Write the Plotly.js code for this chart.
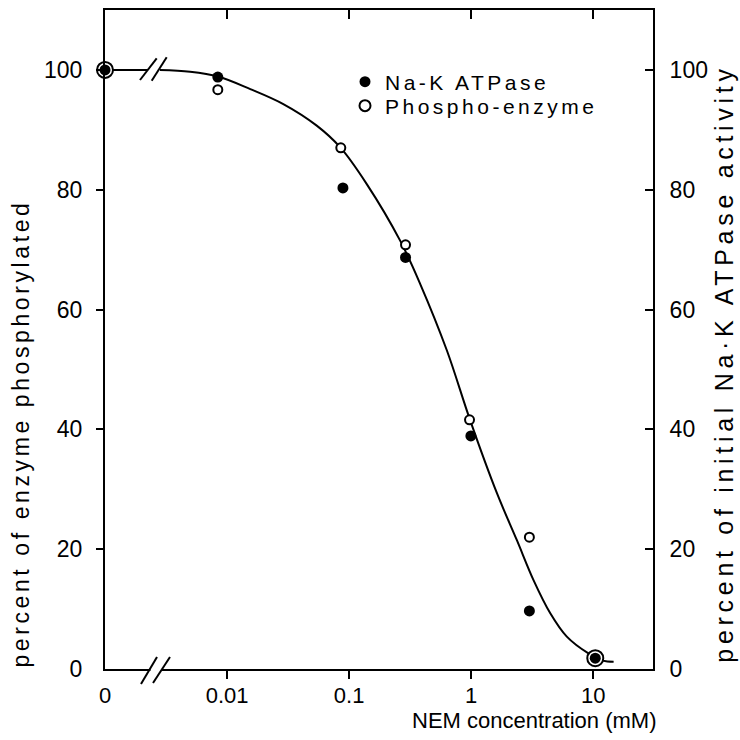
<!DOCTYPE html>
<html>
<head>
<meta charset="utf-8">
<script src="https://cdn.plot.ly/plotly-3.0.1.min.js"></script>
<style>
  html, body { margin: 0; padding: 0; background: #fff; }
  #chart { width: 740px; height: 740px; }
  text.legendtext { letter-spacing: 3.5px; }
  #chart g.annotation[data-index="1"] text { letter-spacing: 3.6px; }
  #chart g.annotation[data-index="2"] text { letter-spacing: 4.7px; }
</style>
</head>
<body>
<div id="chart"></div>
<script>
// ---- data ----
// x = 0 is drawn at 0.001 mM (one decade left of 0.01, behind the axis break)
const tickVals = [0.001, 0.01, 0.1, 1, 10];
const tickText = ['0', '0.01', '0.1', '1', '10'];
const yTickVals = [0, 20, 40, 60, 80, 100];

const atpaseX = [0.001, 0.0084, 0.089, 0.29, 0.995, 3.0, 10.4];
const atpaseY = [100, 98.8, 80.3, 68.7, 38.9, 9.7, 1.8];

const phosphoX = [0.001, 0.0084, 0.0855, 0.29, 0.97, 3.0, 10.4];
const phosphoY = [100, 96.7, 87.0, 70.8, 41.6, 22.0, 1.8];

// fitted curve (before the axis break and after it)
const curveStartX = [0.001, 0.00225];
const curveStartY = [100, 100];
const curveX = [0.00282, 0.00498, 0.00843, 0.0155, 0.0289, 0.0543, 0.0844, 0.14, 0.262, 0.382, 0.632, 0.982, 1.63, 2.37, 3.25, 4.45, 6.08, 9.14, 12.0, 14.7];
const curveY = [100, 99.7, 98.9, 96.8, 94.3, 90.7, 87.1, 80.9, 71.5, 64.3, 53.2, 41.5, 29.3, 21.5, 14.8, 9.3, 5.4, 2.6, 1.4, 1.2];

const xTitle = 'NEM concentration (mM)';
const yLeftTitle = 'percent of enzyme phosphorylated';
const yRightTitle = 'percent of initial Na\u00b7K ATPase activity';
const legendNames = ['Na-K ATPase', 'Phospho-enzyme'];

// ---- chart ----
const FONT = 'Liberation Sans, Arial, Helvetica, sans-serif';
const xRange = [-3, 1.49];
const yRange = [0, 110];
const innerTicksX = tickVals.filter(v => v > tickVals[0]);
const innerTicksY = yTickVals.filter(v => v > yTickVals[0]);

// points where both series coincide get a ring around the dot
const phosphoSize = phosphoX.map((x, i) =>
  atpaseX.some((ax, j) => ax === x && atpaseY[j] === phosphoY[i]) ? 16 : 9);

const traces = [
  { x: curveStartX, y: curveStartY, mode: 'lines', line: { color: '#000', width: 2 },
    showlegend: false, hoverinfo: 'skip', cliponaxis: false },
  { x: curveX, y: curveY, mode: 'lines', line: { color: '#000', width: 2, shape: 'spline', smoothing: 1 },
    showlegend: false, hoverinfo: 'skip', cliponaxis: false },
  { x: phosphoX, y: phosphoY, name: legendNames[1], mode: 'markers', legend: 'legend2',
    marker: { symbol: 'circle', color: '#fff', size: phosphoSize, opacity: 1, line: { color: '#000', width: 2 } },
    cliponaxis: false },
  { x: atpaseX, y: atpaseY, name: legendNames[0], mode: 'markers', legend: 'legend',
    marker: { symbol: 'circle', color: '#000', size: 11, opacity: 1 }, cliponaxis: false },
  // empty traces that create the overlay axes used for the tick marks
  { x: [], y: [], xaxis: 'x2', yaxis: 'y2', showlegend: false, hoverinfo: 'skip' },
  { x: [], y: [], xaxis: 'x3', yaxis: 'y3', showlegend: false, hoverinfo: 'skip' }
];

const baseAx = { showgrid: false, zeroline: false, fixedrange: true };
const font = (s) => ({ family: FONT, size: s, color: '#000' });

// helpers for paper coordinates of the decorations
const L = 105, R = 653, T = 10, B = 669;
const px = (v) => (v - L) / (R - L);
const py = (v) => (B - v) / (B - T);
const slash = (x0, y0, x1, y1) => ({ type: 'line', xref: 'paper', yref: 'paper',
  x0: px(x0), y0: py(y0), x1: px(x1), y1: py(y1), line: { color: '#000', width: 2 } });

const layout = {
  width: 740, height: 740,
  margin: { l: L, r: 740 - R, t: T, b: 740 - B, pad: 0 },
  paper_bgcolor: '#fff', plot_bgcolor: '#fff',
  font: font(22),
  xaxis: Object.assign({}, baseAx, {
    type: 'log', range: xRange, tickmode: 'array', tickvals: tickVals, ticktext: tickText,
    ticks: 'outside', ticklen: 6, tickcolor: 'rgba(0,0,0,0)',
    showline: true, linecolor: '#000', linewidth: 2, tickfont: font(22), anchor: 'y'
  }),
  xaxis2: Object.assign({}, baseAx, {
    type: 'log', range: xRange, overlaying: 'x', anchor: 'y', side: 'bottom',
    tickmode: 'array', tickvals: innerTicksX, ticks: 'outside', ticklen: 9, tickwidth: 2,
    tickcolor: '#000', showticklabels: false, showline: false
  }),
  xaxis3: Object.assign({}, baseAx, {
    type: 'log', range: xRange, overlaying: 'x', anchor: 'y', side: 'top',
    tickmode: 'array', tickvals: innerTicksX, ticks: 'inside', ticklen: 9, tickwidth: 2,
    tickcolor: '#000', showticklabels: false, showline: true, linecolor: '#000', linewidth: 2
  }),
  yaxis: Object.assign({}, baseAx, {
    range: yRange, tickmode: 'array', tickvals: yTickVals, ticks: 'outside', ticklen: 8,
    tickcolor: 'rgba(0,0,0,0)', ticklabelstandoff: 8,
    showline: true, linecolor: '#000', linewidth: 2, tickfont: font(23), anchor: 'x'
  }),
  yaxis2: Object.assign({}, baseAx, {
    range: yRange, overlaying: 'y', anchor: 'x', side: 'left',
    tickmode: 'array', tickvals: innerTicksY, ticks: 'outside', ticklen: 8, tickwidth: 2,
    tickcolor: '#000', showticklabels: false, showline: false
  }),
  yaxis3: Object.assign({}, baseAx, {
    range: yRange, overlaying: 'y', anchor: 'x', side: 'right',
    tickmode: 'array', tickvals: yTickVals, ticks: 'inside', ticklen: 8, tickwidth: 2,
    tickcolor: '#000', ticklabelstandoff: 10, tickfont: font(23),
    showline: true, linecolor: '#000', linewidth: 2
  }),
  legend: { x: px(345), xanchor: 'left', y: py(82), yanchor: 'middle', bgcolor: 'rgba(0,0,0,0)',
    font: font(21), borderwidth: 0 },
  legend2: { x: px(345), xanchor: 'left', y: py(106), yanchor: 'middle', bgcolor: 'rgba(0,0,0,0)',
    font: font(21), borderwidth: 0 },
  annotations: [
    { text: xTitle, xref: 'paper', yref: 'paper', x: px(534), y: py(720), xanchor: 'center',
      yanchor: 'middle', showarrow: false, font: font(22) },
    { text: yLeftTitle, xref: 'paper', yref: 'paper', x: px(21), y: py(434), textangle: -90,
      xanchor: 'center', yanchor: 'middle', showarrow: false, font: font(23) },
    { text: yRightTitle, xref: 'paper', yref: 'paper', x: px(724), y: py(364), textangle: -90,
      xanchor: 'center', yanchor: 'middle', showarrow: false, font: font(25) }
  ],
  shapes: [
    // gap in the x axis line at the break
    { type: 'line', xref: 'paper', yref: 'paper', x0: px(150.5), x1: px(161.5), y0: 0, y1: 0,
      line: { color: '#fff', width: 5 } },
    slash(141, 684, 157, 657), slash(153, 683, 170, 657),
    slash(140, 80, 156.7, 58.3), slash(151.7, 80.7, 166.7, 57.3)
  ]
};

Plotly.newPlot('chart', traces, layout, { staticPlot: true, displayModeBar: false }).then(() => {
  // widen the legend lettering like the original typesetting, and let it overflow its box
  document.querySelectorAll('#chart g[class^="legend"] text').forEach(t => {
    t.style.letterSpacing = '3.5px';
  });
  document.querySelectorAll('#chart g[class^="legend"] [clip-path]').forEach(g => {
    g.removeAttribute('clip-path');
  });
});
</script>
</body>
</html>
